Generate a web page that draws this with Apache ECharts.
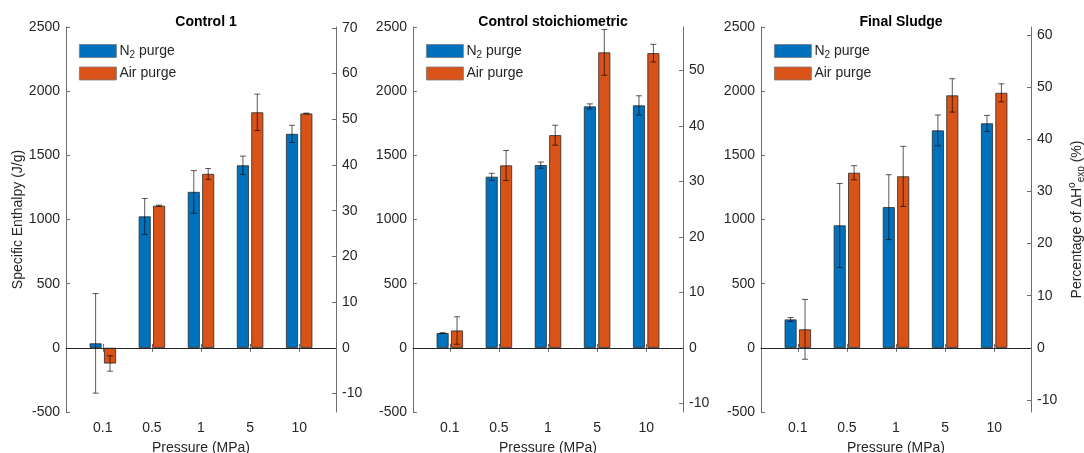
<!DOCTYPE html>
<html lang="en">

<head>
  <meta charset="UTF-8">
  <title>Specific enthalpy vs pressure</title>
  <script src="https://cdn.jsdelivr.net/npm/echarts@6/dist/echarts.min.js"></script>
  <style>
    body { margin: 0; background: #fff; }
    #chart { width: 1084px; height: 453px; }
  </style>
</head>

<body>
  <div id="chart"></div>
  <script>
    // categories (pressure, MPa)
    var pressures = ['0.1', '0.5', '1', '5', '10']
    var titles = ['Control 1', 'Control stoichiometric', 'Final Sludge']

    // specific enthalpy (J/g)
    var n2Control1 = [35, 1024, 1215, 1422, 1667]
    var n2Control1Err = [388, 140, 166, 72, 67]
    var airControl1 = [-122, 1107, 1355, 1835, 1826]
    var airControl1Err = [60, 5, 42, 142, 3]

    var n2Stoich = [115, 1333, 1424, 1881, 1889]
    var n2StoichErr = [3, 27, 24, 20, 75]
    var airStoich = [135, 1421, 1657, 2302, 2296]
    var airStoichErr = [107, 117, 78, 178, 69]

    var n2Sludge = [221, 954, 1096, 1694, 1749]
    var n2SludgeErr = [15, 327, 253, 120, 62]
    var airSludge = [144, 1364, 1336, 1967, 1987]
    var airSludgeErr = [233, 55, 234, 130, 70]

    // right axis (% of ΔH°exp): top value of each panel, and its ticks
    var rightMax = [70.2, 57.8, 61.5]
    var rightTicks = [
      [-10, 0, 10, 20, 30, 40, 50, 60, 70],
      [-10, 0, 10, 20, 30, 40, 50],
      [-10, 0, 10, 20, 30, 40, 50, 60]
    ]

    var panels = [
      { n2: n2Control1, n2e: n2Control1Err, air: airControl1, aire: airControl1Err },
      { n2: n2Stoich, n2e: n2StoichErr, air: airStoich, aire: airStoichErr },
      { n2: n2Sludge, n2e: n2SludgeErr, air: airSludge, aire: airSludgeErr }
    ]

    var gridLefts = [66, 413, 761]
    var gridW = 270
    var blue = '#0072BD', orange = '#D95319'
    var axisColor = '#6e6e6e', textColor = '#262626'
    var font = 'Liberation Sans, Arial, Helvetica, sans-serif'
    var barW = 12, dodge = 7.2

    function pairs(vals) {
      return vals.map(function (v, i) { return [i + 1, v] })
    }
    function errPairs(vals, errs) {
      return vals.map(function (v, i) { return [i + 1, v, errs[i]] })
    }

    function errorSeries(k, data, dx) {
      return {
        type: 'custom',
        xAxisIndex: 2 * k,
        yAxisIndex: 2 * k,
        z: 5,
        silent: true,
        data: data,
        renderItem: function (params, api) {
          var x = api.value(0), y = api.value(1), e = api.value(2)
          var hi = api.coord([x, y + e])
          var lo = api.coord([x, y - e])
          var cx = hi[0] + dx
          var cap = 3
          var st = { stroke: 'rgba(0,0,0,0.65)', lineWidth: 1 }
          return {
            type: 'group',
            children: [
              { type: 'line', shape: { x1: cx, y1: hi[1], x2: cx, y2: lo[1] }, style: st },
              { type: 'line', shape: { x1: cx - cap, y1: hi[1], x2: cx + cap, y2: hi[1] }, style: st },
              { type: 'line', shape: { x1: cx - cap, y1: lo[1], x2: cx + cap, y2: lo[1] }, style: st }
            ]
          }
        }
      }
    }

    var grid = [], xAxis = [], yAxis = [], series = [], legend = [], title = []

    panels.forEach(function (p, k) {
      grid.push({ left: gridLefts[k], top: 27, width: gridW, height: 385, outerBoundsMode: 'none', containLabel: false })

      title.push({
        text: titles[k],
        left: gridLefts[k] + gridW / 2,
        top: 10,
        textAlign: 'center',
        textStyle: { fontFamily: font, fontSize: 14, fontWeight: 'bold', color: '#000' }
      })

      // bottom + top x axes (box)
      xAxis.push({
        type: 'value', gridIndex: k, min: 0.25, max: 5.75,
        name: 'Pressure (MPa)', nameLocation: 'middle', nameGap: 29,
        nameTextStyle: { fontFamily: font, fontSize: 14, color: textColor },
        axisLine: { show: true, lineStyle: { color: axisColor } },
        axisTick: { show: true, inside: true, length: 4, customValues: [1, 2, 3, 4, 5], lineStyle: { color: axisColor } },
        axisLabel: {
          customValues: [1, 2, 3, 4, 5], margin: 9,
          fontFamily: font, fontSize: 14, color: textColor,
          formatter: function (v) { return pressures[v - 1] }
        },
        splitLine: { show: false }
      })
      xAxis.push({
        type: 'value', gridIndex: k, position: 'top', min: 0.25, max: 5.75,
        axisLine: { show: true, lineStyle: { color: axisColor } },
        axisTick: { show: true, inside: true, length: 4, customValues: [1, 2, 3, 4, 5], lineStyle: { color: axisColor } },
        axisLabel: { show: false },
        splitLine: { show: false }
      })

      // left + right y axes
      yAxis.push({
        type: 'value', gridIndex: k, min: -500, max: 2500, interval: 500,
        name: k === 0 ? 'Specific Enthalpy (J/g)' : '',
        nameLocation: 'middle', nameGap: 40,
        nameTextStyle: { fontFamily: font, fontSize: 14, color: textColor },
        axisLine: { show: true, lineStyle: { color: axisColor } },
        axisTick: { show: true, inside: true, length: 4, lineStyle: { color: axisColor } },
        axisLabel: {
          margin: 6, fontFamily: font, fontSize: 14, color: textColor,
          formatter: function (v) { return String(v) }
        },
        splitLine: { show: false }
      })
      yAxis.push({
        type: 'value', gridIndex: k, position: 'right',
        min: -rightMax[k] / 5, max: rightMax[k],
        name: k === 2 ? 'Percentage of ΔH{sup|o}{sub|exp} (%)' : '',
        nameLocation: 'middle', nameRotate: 90, nameGap: 36,
        nameTextStyle: {
          fontFamily: font, fontSize: 14, color: textColor,
          rich: {
            sup: { fontFamily: font, fontSize: 10, color: textColor, padding: [0, 0, 10, 0] },
            sub: { fontFamily: font, fontSize: 10, color: textColor, padding: [8, 0, 0, 0] }
          }
        },
        axisLine: { show: true, lineStyle: { color: axisColor } },
        axisTick: { show: true, inside: true, length: 4, customValues: rightTicks[k], lineStyle: { color: axisColor } },
        axisLabel: { customValues: rightTicks[k], margin: 6, fontFamily: font, fontSize: 14, color: textColor },
        splitLine: { show: false }
      })

      series.push({
        name: 'N2 purge', type: 'bar', xAxisIndex: 2 * k, yAxisIndex: 2 * k,
        data: pairs(p.n2), barWidth: barW, barGap: '20%',
        itemStyle: { color: blue, borderColor: '#2b2b2b', borderWidth: 0.8 },
        markLine: {
          silent: true, symbol: 'none', label: { show: false },
          lineStyle: { color: textColor, width: 1, type: 'solid' },
          data: [{ yAxis: 0 }]
        }
      })
      series.push({
        name: 'Air purge', type: 'bar', xAxisIndex: 2 * k, yAxisIndex: 2 * k,
        data: pairs(p.air), barWidth: barW, barGap: '20%',
        itemStyle: { color: orange, borderColor: '#2b2b2b', borderWidth: 0.8 }
      })
      series.push(errorSeries(k, errPairs(p.n2, p.n2e), -dodge))
      series.push(errorSeries(k, errPairs(p.air, p.aire), dodge))

      legend.push({
        data: ['N2 purge', 'Air purge'],
        left: gridLefts[k] + 13, top: 44, padding: 0,
        orient: 'vertical', itemWidth: 37, itemHeight: 13, itemGap: 6,
        selectedMode: false,
        icon: 'rect',
        itemStyle: { borderColor: '#7a7a7a', borderWidth: 0.8 },
        formatter: function (name) {
          return name === 'N2 purge' ? 'N{sub|2} purge' : name
        },
        textStyle: {
          fontFamily: font, fontSize: 14, color: textColor, padding: [0, 0, 0, -2],
          rich: {
            sub: { fontFamily: font, fontSize: 10, color: textColor, padding: [9, 0, 0, 0] }
          }
        }
      })
    })

    var mCharts = echarts.init(document.getElementById('chart'))
    mCharts.setOption({
      animation: false,
      title: title,
      grid: grid,
      xAxis: xAxis,
      yAxis: yAxis,
      legend: legend,
      series: series
    })
  </script>
</body>

</html>
